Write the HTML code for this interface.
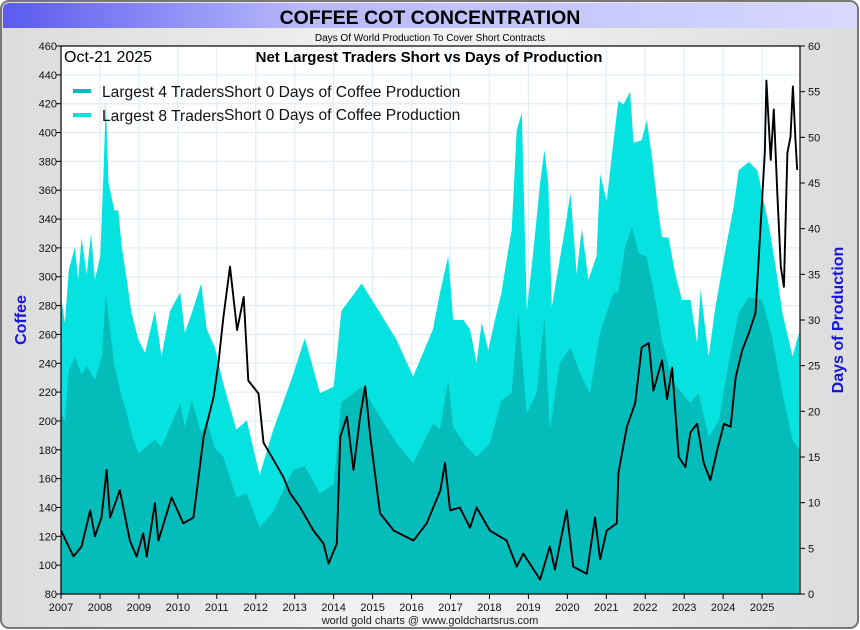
<!DOCTYPE html>
<html><head><meta charset="utf-8"><style>
html,body{margin:0;padding:0;background:#fff}
svg{display:block;font-family:"Liberation Sans",sans-serif}
</style></head><body>
<svg id="c" width="860" height="630" viewBox="0 0 860 630">
<defs>
<linearGradient id="hdr" x1="0" x2="1" y1="0" y2="0"><stop offset="0" stop-color="#5a5af0"/><stop offset="0.35" stop-color="#b8b8fa"/><stop offset="1" stop-color="#d8d8ff"/></linearGradient>
<linearGradient id="bg" x1="0" x2="1"><stop offset="0" stop-color="#dcdcdc"/><stop offset="0.5" stop-color="#f4f4f4"/><stop offset="1" stop-color="#dcdcdc"/></linearGradient>
<clipPath id="pc"><rect x="61" y="46" width="739" height="548"/></clipPath>
</defs>
<rect x="1" y="1" width="857" height="627" rx="8" fill="url(#bg)" stroke="#777" stroke-width="2"/>
<path d="M3 28 V10 Q3 3 10 3 H850 Q857 3 857 10 V28 Z" fill="url(#hdr)"/>
<text x="430" y="24" text-anchor="middle" font-size="19.5" font-weight="bold" fill="#000">COFFEE COT CONCENTRATION</text>
<text x="430" y="41" text-anchor="middle" font-size="10" fill="#000">Days Of World Production To Cover Short Contracts</text>
<rect x="61" y="46" width="739" height="548" fill="#fff"/>
<g id="grid"></g>
<g id="areas" clip-path="url(#pc)"></g>
<g id="price" clip-path="url(#pc)"></g>
<rect x="61" y="46" width="739" height="548" fill="none" stroke="#000" stroke-width="1.2"/>
<g id="axes"></g>
<text x="64" y="62" font-size="16" fill="#000">Oct-21  2025</text>
<text x="429" y="62" text-anchor="middle" font-size="15" font-weight="bold" fill="#000">Net Largest Traders Short vs Days of Production</text>
<rect x="73" y="89" width="18" height="4" fill="#04bcba"/>
<text x="102" y="97" font-size="15.6" fill="#111">Largest 4 Traders</text>
<text x="224" y="97" font-size="15.6" fill="#111">Short 0 Days of Coffee Production</text>
<rect x="73" y="113" width="18" height="4" fill="#06e2e0"/>
<text x="102" y="121" font-size="15.6" fill="#111">Largest 8 Traders</text>
<text x="224" y="120" font-size="15.6" fill="#111">Short 0 Days of Coffee Production</text>
<text transform="translate(26,320) rotate(-90)" text-anchor="middle" font-size="16" font-weight="bold" fill="#1515e0">Coffee</text>
<text transform="translate(843,320) rotate(-90)" text-anchor="middle" font-size="16" font-weight="bold" fill="#1515e0">Days of Production</text>
<text x="430" y="624" text-anchor="middle" font-size="11" fill="#222">world gold charts @ www.goldchartsrus.com</text>
</svg>
<script>
const yearTicks=[2007,2008,2009,2010,2011,2012,2013,2014,2015,2016,2017,2018,2019,2020,2021,2022,2023,2024,2025];
const priceTicks=[80,100,120,140,160,180,200,220,240,260,280,300,320,340,360,380,400,420,440,460];
const dayTicks=[0,5,10,15,20,25,30,35,40,45,50,55,60];
const t8=[2007.0,2007.1,2007.2,2007.36,2007.44,2007.53,2007.66,2007.77,2007.87,2008.01,2008.1,2008.15,2008.22,2008.37,2008.47,2008.56,2008.69,2008.81,2008.99,2009.16,2009.41,2009.58,2009.8,2010.06,2010.18,2010.36,2010.6,2010.74,2010.95,2011.17,2011.5,2011.77,2012.1,2012.45,2012.96,2013.26,2013.65,2014.0,2014.2,2014.72,2015.19,2015.62,2016.04,2016.55,2016.73,2016.94,2017.07,2017.33,2017.5,2017.67,2017.8,2017.97,2018.14,2018.31,2018.4,2018.57,2018.7,2018.83,2018.96,2019.13,2019.3,2019.41,2019.51,2019.6,2019.73,2019.94,2020.08,2020.24,2020.37,2020.54,2020.75,2020.84,2021.01,2021.18,2021.31,2021.44,2021.61,2021.7,2021.91,2022.04,2022.17,2022.34,2022.43,2022.6,2022.77,2022.94,2023.16,2023.33,2023.42,2023.63,2023.8,2024.06,2024.27,2024.4,2024.66,2024.88,2025.0,2025.18,2025.35,2025.52,2025.78,2025.95];
const days8=[32.5,29.7,35.5,38,34.4,39,35,39.5,34.4,37,47,54,45,42,42,38,34.4,30.8,27.8,26.4,31,26,31,33,28.6,30.8,34,29,27,23,18,19,13,18,24,28,22,22.7,31,34,30.8,27.8,23.8,29,33,37,30,30,29,25.3,29.7,26.7,30,33,35.5,39.9,50.8,52.7,31,37.7,45,48.6,45,31.4,34.7,40,43.9,35,40,34.4,37,46,43,49.4,54,53.6,55,49.4,49.7,51.9,47.9,41.7,39.1,39,35.1,32.2,32.2,27.5,33.3,26,31.4,37.7,42.4,46.4,47.3,46.4,43.9,40.2,35.8,30.8,26,28.6];
const t4=[2007.0,2007.1,2007.2,2007.36,2007.53,2007.66,2007.87,2008.05,2008.15,2008.37,2008.56,2008.69,2008.81,2008.99,2009.41,2009.58,2010.06,2010.18,2010.36,2010.6,2010.74,2010.95,2011.17,2011.5,2011.77,2012.1,2012.45,2012.96,2013.26,2013.65,2014.0,2014.2,2014.72,2015.19,2015.62,2016.04,2016.55,2016.73,2016.94,2017.07,2017.41,2017.67,2018.01,2018.31,2018.57,2018.74,2018.96,2019.21,2019.41,2019.55,2019.81,2020.08,2020.32,2020.58,2020.84,2021.18,2021.31,2021.48,2021.66,2021.83,2022.04,2022.26,2022.43,2022.69,2022.94,2023.16,2023.37,2023.63,2023.89,2024.15,2024.4,2024.66,2025.0,2025.26,2025.52,2025.78,2025.95];
const days4=[19.8,19,24.5,26,24,25,23.4,26,33,25,21.6,19.8,17.6,15.4,16.9,16.1,20.9,18.3,21.2,17.6,19,16,15,10.6,11,7.3,9,13.6,14,11,12,21,22.7,19.4,16.5,14.3,18.7,18,23.4,18.3,16.1,15,16.5,21.2,22,30.8,19.8,22,30.3,18,25.3,27,24.2,22,28.6,33,33,38,40.2,37.3,36.9,32.2,27.8,23.4,22,20.9,22,17.2,19,25.6,30.8,32.5,32.2,28.1,22,16.9,15.8];
const tp=[2007.0,2007.32,2007.53,2007.75,2007.87,2008.04,2008.17,2008.26,2008.51,2008.77,2008.94,2009.11,2009.2,2009.41,2009.5,2009.84,2010.14,2010.4,2010.66,2010.92,2011.04,2011.17,2011.34,2011.52,2011.69,2011.81,2012.07,2012.2,2012.5,2012.71,2012.88,2013.14,2013.48,2013.74,2013.87,2014.08,2014.17,2014.34,2014.51,2014.68,2014.81,2014.94,2015.19,2015.54,2016.05,2016.39,2016.74,2016.86,2016.99,2017.24,2017.5,2017.67,2018.01,2018.44,2018.7,2018.87,2019.3,2019.55,2019.68,2019.98,2020.15,2020.5,2020.71,2020.84,2021.01,2021.27,2021.31,2021.53,2021.74,2021.91,2022.09,2022.21,2022.43,2022.56,2022.69,2022.86,2023.03,2023.16,2023.33,2023.5,2023.67,2023.85,2024.02,2024.19,2024.32,2024.49,2024.66,2024.83,2024.96,2025.07,2025.11,2025.22,2025.3,2025.39,2025.48,2025.56,2025.65,2025.73,2025.79,2025.86,2025.9];
const price=[124,106,113,138,120,133,166,133,152,117,106,122,106,143,117,147,129,133,189,217,240,272,307,263,286,228,219,185,171,161,150,140,124,115,101,115,189,203,166,203,224,189,136,124,117,129,152,171,138,140,126,140,124,117,99,108,90,113,97,138,99,94,133,104,124,129,164,196,212,251,254,221,242,215,237,175,168,192,198,171,159,180,198,196,230,249,261,275,334,386,436,381,416,358,307,293,386,397,432,393,374];

const X0=61,X1=800,Y0=46,Y1=594,YR=38.95;
function xs(t){return X0+(t-2007)*YR;}
function yp(p){return Y1-(p-80)*(Y1-Y0)/380;}
function yd(d){return Y1-d*(Y1-Y0)/60;}
const NS='http://www.w3.org/2000/svg';
function mk(tag,attrs,parent){const e=document.createElementNS(NS,tag);for(const k in attrs)e.setAttribute(k,attrs[k]);parent.appendChild(e);return e;}
const grid=document.getElementById('grid'),axes=document.getElementById('axes'),areas=document.getElementById('areas'),pg=document.getElementById('price');

priceTicks.forEach(p=>{const y=yp(p);
  const g=mk('line',{x1:X0,x2:X1,y1:y,y2:y,stroke:'#e2eff8','stroke-width':1.3},grid);
  
  
  const tk=mk('line',{x1:X0-5,x2:X0,y1:y,y2:y,stroke:'#000'},axes);
  
  
  const l=mk('text',{x:X0-4,y:y+4,'text-anchor':'end','font-size':11,fill:'#111'},axes);l.textContent=p;
  
  
});
dayTicks.forEach(d=>{const y=yd(d);
  const tk=mk('line',{x1:X1,x2:X1+5,y1:y,y2:y,stroke:'#000'},axes);
  
  
  const l=mk('text',{x:X1+8,y:y+4,'font-size':11,fill:'#111'},axes);l.textContent=d;
  
  
});
yearTicks.forEach(t=>{const x=xs(t);
  const g=mk('line',{x1:x,x2:x,y1:Y0,y2:Y1,stroke:'#e2eff8','stroke-width':1.3},grid);
  
  
  const tk=mk('line',{x1:x,x2:x,y1:Y1,y2:Y1+5,stroke:'#000'},axes);
  
  
  const l=mk('text',{x:x,y:611,'text-anchor':'middle','font-size':11,fill:'#111'},axes);l.textContent=t;
  
  
});
function areaPath(ts,vs){let d='M'+xs(ts[0])+' '+Y1;ts.forEach((t,i)=>{d+=' L'+xs(t).toFixed(1)+' '+yd(vs[i]).toFixed(1);});d+=' L'+xs(ts[ts.length-1])+' '+Y1+' Z';return d;}
const a8=mk('path',{d:areaPath(t8,days8),fill:'#06e2e0'},areas);


const a4=mk('path',{d:areaPath(t4,days4),fill:'#04bcba'},areas);


let pd='';tp.forEach((t,i)=>{pd+=(i?' L':'M')+xs(t).toFixed(1)+' '+yp(price[i]).toFixed(1);});
const pl=mk('path',{d:pd,fill:'none',stroke:'#000','stroke-width':1.9,'stroke-linejoin':'round'},pg);


</script>
</body></html>
